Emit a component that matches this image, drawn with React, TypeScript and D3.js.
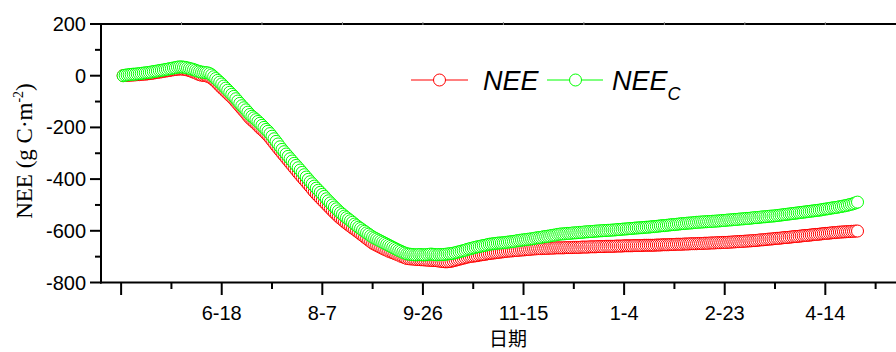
import React from 'react';
import * as d3 from 'd3';

// Day index of the first sample (days counted from 4-29)
const startDay = 1;

// NEE (red), one value per day
const neeValues: number[] = [
  0, 1, 1, 2, 2, 3, 3, 4, 4, 5, 6, 6, 7, 8,
  9, 10, 12, 13, 14, 15, 17, 18, 19, 20, 22, 23, 24, 25,
  26, 26, 25, 24, 22, 20, 17, 14, 11, 7, 4,
  2, 1, 0, -2, -5, -10, -16,
  -23, -31, -39, -47, -54, -62, -69, -77, -84, -92,
  -101, -110, -119, -128, -137, -146, -156, -165,
  -172, -179, -186, -194, -202, -209, -216, -224, -232,
  -241, -251, -261, -271, -281, -290, -300,
  -309, -319, -328, -338, -347, -357, -366, -376, -385,
  -394, -403, -412, -421, -430, -440, -449, -458,
  -466, -474, -482, -490, -498, -506, -514, -522,
  -530, -537, -545, -552, -558, -565, -571, -577, -583, -589, -594, -600,
  -606, -612, -618, -624, -630, -636, -642, -648,
  -652, -656, -660, -664, -668, -672, -675, -679, -682,
  -685, -688, -691, -694, -698, -701, -704, -707,
  -708, -709, -709, -710, -711, -711, -712, -712,
  -713, -713, -714, -714, -715, -715, -716, -717, -718, -719, -720, -720,
  -719, -718, -716, -714, -712, -710, -708, -706, -704, -702, -700, -699, -698,
  -697, -696, -694, -693, -692, -691, -689, -688,
  -687, -686, -685, -684, -683, -682, -681, -680, -679,
  -678, -678, -677, -676, -676, -675, -674, -674, -673, -672, -672, -671, -670, -670, -669,
  -669, -669, -668, -668, -668, -667, -667, -667, -666, -666, -666,
  -666, -666, -665, -665, -665, -665, -664, -664, -664, -664,
  -663, -663, -663, -663, -662, -662, -662, -662, -661, -661,
  -661, -661, -660, -660, -660,
  -660, -660, -659, -659, -659, -659, -658, -658, -658, -658,
  -658, -657, -657, -657, -657, -657, -656, -656, -656, -656,
  -656, -656, -655, -655, -655, -654, -654, -654, -654, -653,
  -653, -653, -652, -652, -652, -652, -651, -651, -651, -650,
  -650, -650,
  -650, -649, -649, -649, -648, -648, -648, -647, -647, -647,
  -646, -646, -646, -645, -645,
  -645, -644, -644, -643, -643, -642, -642, -641, -641, -640,
  -640, -639, -639, -638, -638, -637,
  -636, -635, -635, -634, -633, -632, -632, -631, -630, -629,
  -629, -628, -627, -626, -626, -625, -624,
  -623, -622, -622, -621, -620, -619, -618, -618, -617, -616,
  -615, -614, -614, -613, -612, -611,
  -610, -610, -609, -608, -607, -607, -606, -605,
  -605, -604, -604, -603, -603, -602, -602, -601, -601,
];

// NEE_C (green), one value per day
const neeCValues: number[] = [
  0, 2, 3, 4, 5, 6, 6, 7, 8, 9, 10, 11, 12, 13,
  14, 16, 17, 18, 20, 21, 22, 24, 25, 27, 28, 30, 31, 33,
  34, 34, 33, 32, 30, 28, 26, 24, 21, 18, 16,
  14, 13, 12, 11, 8, 3, -4,
  -11, -18, -25, -32, -40, -48, -56, -64, -72, -80,
  -89, -98, -107, -116, -124, -132, -141, -150,
  -157, -163, -170, -177, -184, -192, -200, -208, -215,
  -224, -234, -244, -254, -264, -275, -285,
  -294, -303, -312, -321, -330, -339, -347, -356, -365,
  -374, -383, -392, -401, -410, -418, -427, -435,
  -443, -451, -459, -467, -476, -484, -492, -500,
  -508, -515, -523, -530, -536, -543, -549, -555, -561, -567, -574, -580,
  -586, -591, -597, -602, -608, -613, -619, -624,
  -628, -632, -636, -640, -644, -648, -652, -656, -660,
  -664, -668, -672, -676, -679, -683, -686, -689,
  -690, -691, -692, -693, -693, -692, -692, -693,
  -693, -692, -691, -690, -691, -692, -693, -692,
  -692, -692, -691, -690, -689, -688, -687, -685,
  -683, -681, -679, -677, -675, -672, -670, -668, -666,
  -664, -662, -661, -659, -657, -656, -654, -652,
  -651, -650, -649, -648, -647, -647, -646, -645, -644,
  -643, -642, -641, -640, -638, -637, -636, -635, -634, -633,
  -632, -631, -630, -628, -627,
  -626, -625, -623, -622, -621, -620, -618, -617, -616, -614, -613,
  -612, -612, -611, -610, -610, -609, -608, -608, -607, -606,
  -606, -605, -604, -604, -603, -603, -602, -601, -601, -600,
  -600, -599, -599, -598, -598,
  -597, -597, -596, -595, -595, -594, -593, -593, -592, -591,
  -591, -590, -589, -589, -588, -588, -587, -586, -586, -585,
  -584, -584, -583, -582, -581, -580, -580, -579, -578, -577,
  -576, -576, -575, -574, -573, -572, -572, -571, -570, -570,
  -569, -568,
  -567, -567, -566, -566, -565, -565, -564, -564, -563, -563,
  -562, -562, -561, -560, -560, -559, -558, -558, -557, -556,
  -556, -555, -554, -554, -553, -552, -552, -551, -550, -549,
  -549, -548, -547, -546, -546, -545, -544, -543, -543, -542,
  -541, -540,
  -539, -538, -537, -536, -535, -534, -533, -532, -531, -530,
  -529, -528, -527, -526, -525, -524, -523, -522, -521, -520,
  -519, -517, -516, -515, -514, -512, -511, -510, -509, -507,
  -506, -504, -503, -501, -499, -497, -495, -492, -489,
];

const yTicks = [200, 0, -200, -400, -600, -800];
const yMinorTicks = [100, -100, -300, -500, -700];
const xTickDays = [0, 50, 100, 150, 200, 250, 300, 350];
const xTickLabels = ['', '6-18', '8-7', '9-26', '11-15', '1-4', '2-23', '4-14'];
const xMinorDays = [25, 75, 125, 175, 225, 275, 325, 375];
const topTickDays = [30, 70, 110, 150, 190, 230, 270, 310, 350];

const seriesColors = ['#ff0000', '#00ff00'];

export default function App() {
  const W = 896;
  const H = 352;
  const x = d3.scaleLinear().domain([-10, 390]).range([101, 905.8]);
  const y = d3.scaleLinear().domain([-800, 200]).range([282.5, 24]);
  const sans = '"Liberation Sans", Arial, sans-serif';
  const serif = '"Liberation Serif", "Times New Roman", serif';
  const series = [neeValues, neeCValues];
  const line = d3
    .line<number>()
    .x((_, i) => x(startDay + i))
    .y((d) => y(d));
  const r = 6;

  return (
    <svg
      width={W}
      height={H}
      style={{ position: 'absolute', left: 0, top: 0, background: '#fff' }}
    >
      <rect x={0} y={0} width={W} height={H} fill="#fff" />
      {/* data */}
      {series.map((vals, si) => (
        <g key={si}>
          <path d={line(vals) || ''} fill="none" stroke={seriesColors[si]} strokeWidth={1} />
          {vals.map((v, i) => (
            <circle
              key={i}
              cx={x(startDay + i)}
              cy={y(v)}
              r={r}
              fill="#fff"
              stroke={seriesColors[si]}
              strokeWidth={1}
            />
          ))}
        </g>
      ))}

      {/* top axis */}
      <line x1={100} x2={W} y1={24} y2={24} stroke="#000" strokeWidth={2} />
      {topTickDays.map((d) => (
        <line key={'tt' + d} x1={x(d)} x2={x(d)} y1={22} y2={25} stroke="#888" strokeWidth={1} />
      ))}

      {/* left axis */}
      <line x1={101} x2={101} y1={23} y2={283.5} stroke="#000" strokeWidth={2} />
      {yTicks.map((t) => (
        <g key={'yt' + t}>
          <line x1={90} x2={101} y1={y(t)} y2={y(t)} stroke="#000" strokeWidth={2} />
          <text
            x={86}
            y={y(t) + 7}
            textAnchor="end"
            fontFamily={sans}
            fontSize={20}
            fill="#000"
          >
            {t}
          </text>
        </g>
      ))}
      {yMinorTicks.map((t) => (
        <line key={'ym' + t} x1={95} x2={101} y1={y(t)} y2={y(t)} stroke="#000" strokeWidth={2} />
      ))}

      {/* bottom axis */}
      <line x1={100} x2={W} y1={282.5} y2={282.5} stroke="#000" strokeWidth={2} />
      {xTickDays.map((d, i) => (
        <g key={'xt' + d}>
          <line x1={x(d)} x2={x(d)} y1={282.5} y2={295} stroke="#000" strokeWidth={2} />
          <text
            x={x(d)}
            y={320}
            textAnchor="middle"
            fontFamily={sans}
            fontSize={20}
            fill="#000"
          >
            {xTickLabels[i]}
          </text>
        </g>
      ))}
      {xMinorDays.map((d) => (
        <line key={'xm' + d} x1={x(d)} x2={x(d)} y1={282.5} y2={289} stroke="#000" strokeWidth={2} />
      ))}

      {/* axis titles */}
      <text
        x={508}
        y={346}
        textAnchor="middle"
        fontFamily='"Noto Sans CJK SC", sans-serif'
        fontSize={19}
        fill="#000"
      >
        日期
      </text>
      <text
        transform="translate(31.5,151) rotate(-90)"
        textAnchor="middle"
        fontFamily={serif}
        fontSize={23}
        fill="#000"
      >
        NEE (g C·m
        <tspan dy={-9} fontSize={14}>
          -2
        </tspan>
        <tspan dy={9}>)</tspan>
      </text>

      {/* legend */}
      <line x1={411} x2={468} y1={80} y2={80} stroke={seriesColors[0]} strokeWidth={1} />
      <circle cx={439.5} cy={80} r={r} fill="#fff" stroke={seriesColors[0]} strokeWidth={1} />
      <text x={483} y={90} fontFamily={sans} fontStyle="italic" fontSize={27} fill="#000">
        NEE
      </text>
      <line x1={547} x2={603} y1={80} y2={80} stroke={seriesColors[1]} strokeWidth={1} />
      <circle cx={575.5} cy={80} r={r} fill="#fff" stroke={seriesColors[1]} strokeWidth={1} />
      <text x={612} y={90} fontFamily={sans} fontStyle="italic" fontSize={27} fill="#000">
        NEE
        <tspan dy={10} fontSize={18}>
          C
        </tspan>
      </text>
    </svg>
  );
}
